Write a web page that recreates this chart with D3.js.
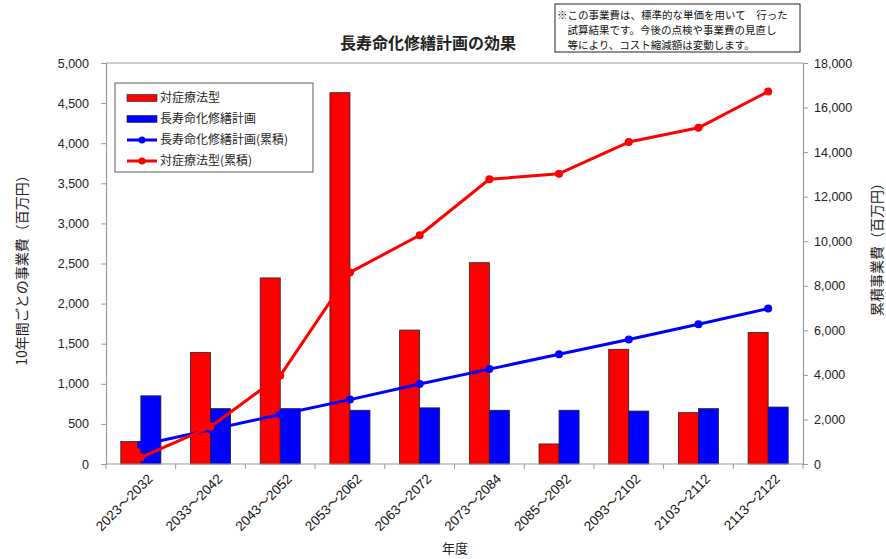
<!DOCTYPE html>
<html>
<head>
<meta charset="utf-8">
<script src="https://cdn.jsdelivr.net/npm/d3@7"></script>
<style>
  body { margin: 0; background: #fff; }
  svg text { font-family: "Liberation Sans", Arial, "Noto Sans CJK JP", sans-serif; }
  .jp { font-family: "Noto Sans CJK JP", "Liberation Sans", sans-serif; }
</style>
</head>
<body>
<div id="chart"></div>
<script>
// data
const periods = ["2023～2032", "2033～2042", "2043～2052", "2053～2062", "2063～2072",
  "2073～2084", "2085～2092", "2093～2102", "2103～2112", "2113～2122"];
const taishoCost = [280, 1390, 2320, 4630, 1670, 2510, 250, 1430, 640, 1640];
const chojuCost = [850, 690, 690, 670, 700, 670, 670, 660, 690, 710];
const chojuCum = [850, 1540, 2220, 2890, 3590, 4260, 4930, 5590, 6270, 6980];
const taishoCum = [300, 1670, 3970, 8600, 10270, 12780, 13030, 14450, 15090, 16720];
const leftTicks = [0, 500, 1000, 1500, 2000, 2500, 3000, 3500, 4000, 4500, 5000];
const rightTicks = [0, 2000, 4000, 6000, 8000, 10000, 12000, 14000, 16000, 18000];
const legendNames = ["対症療法型", "長寿命化修繕計画", "長寿命化修繕計画(累積)", "対症療法型(累積)"];
const noteLines = ["※この事業費は、標準的な単価を用いて　行った",
  "　試算結果です。今後の点検や事業費の見直し",
  "　等により、コスト縮減額は変動します。"];

const width = 886, height = 559;
const plot = { left: 106, right: 803, top: 63, bottom: 464 };
const RED = "#ff0000", BLUE = "#0000ff";

const svg = d3.select("#chart").append("svg")
  .attr("width", width)
  .attr("height", height);

const x = d3.scaleBand().domain(periods).range([plot.left, plot.right]).padding(0);
const sub = d3.scaleBand().domain(["taisho", "choju"])
  .range([0, x.bandwidth()]).paddingInner(0).paddingOuter(0.74);
const yL = d3.scaleLinear().domain([0, 5000]).range([plot.bottom, plot.top]);
const yR = d3.scaleLinear().domain([0, 18000]).range([plot.bottom, plot.top]);

// frame top line
svg.append("line")
  .attr("x1", plot.left).attr("x2", plot.right)
  .attr("y1", plot.top).attr("y2", plot.top)
  .attr("stroke", "#999").attr("stroke-width", 1.2);

// left axis
const axL = svg.append("g")
  .attr("transform", `translate(${plot.left},0)`)
  .call(d3.axisLeft(yL).tickValues(leftTicks).tickFormat(d3.format(",")).tickSize(5).tickPadding(12));
// right axis
const axR = svg.append("g")
  .attr("transform", `translate(${plot.right},0)`)
  .call(d3.axisRight(yR).tickValues(rightTicks).tickFormat(d3.format(",")).tickSize(5).tickPadding(6));

[axL, axR].forEach((ax) => {
  ax.select(".domain").attr("stroke", "#999").attr("stroke-width", 1.2);
  ax.selectAll(".tick line").attr("stroke", "#999");
  ax.selectAll(".tick text").attr("font-size", 12.5).attr("fill", "#222");
});

// bars
const groups = svg.append("g").selectAll("g")
  .data(periods)
  .join("g")
  .attr("transform", (d) => `translate(${x(d)},0)`);

groups.append("rect")
  .attr("x", sub("taisho"))
  .attr("width", sub.bandwidth())
  .attr("y", (d, i) => yL(taishoCost[i]))
  .attr("height", (d, i) => plot.bottom - yL(taishoCost[i]))
  .attr("fill", RED).attr("stroke", "#222").attr("stroke-width", 0.8);

groups.append("rect")
  .attr("x", sub("choju"))
  .attr("width", sub.bandwidth())
  .attr("y", (d, i) => yL(chojuCost[i]))
  .attr("height", (d, i) => plot.bottom - yL(chojuCost[i]))
  .attr("fill", BLUE).attr("stroke", "#222").attr("stroke-width", 0.8);

// x axis line + boundary ticks
svg.append("line")
  .attr("x1", plot.left).attr("x2", plot.right)
  .attr("y1", plot.bottom).attr("y2", plot.bottom)
  .attr("stroke", "#999").attr("stroke-width", 1.2);
const bounds = periods.map((p) => x(p)).concat([plot.right]);
svg.append("g").selectAll("line")
  .data(bounds)
  .join("line")
  .attr("x1", (d) => d).attr("x2", (d) => d)
  .attr("y1", plot.bottom).attr("y2", plot.bottom + 5)
  .attr("stroke", "#999");

// x tick labels
svg.append("g").selectAll("text")
  .data(periods)
  .join("text")
  .attr("transform", (d) => `translate(${x(d) + x.bandwidth() / 2 + 6},${plot.bottom + 9}) rotate(-45)`)
  .attr("text-anchor", "end")
  .attr("dy", "0.7em")
  .attr("font-size", 13.5)
  .attr("fill", "#111")
  .text((d) => d);

// cumulative lines
const cx = (d, i) => x(periods[i]) + x.bandwidth() / 2;
const drawLine = (vals, color) => {
  const line = d3.line().x((d, i) => cx(d, i)).y((d) => yR(d));
  svg.append("path")
    .datum(vals)
    .attr("d", line)
    .attr("fill", "none")
    .attr("stroke", color)
    .attr("stroke-width", 3)
    .attr("stroke-linejoin", "round");
  svg.append("g").selectAll("circle")
    .data(vals)
    .join("circle")
    .attr("cx", (d, i) => cx(d, i))
    .attr("cy", (d) => yR(d))
    .attr("r", 4)
    .attr("fill", color);
};
drawLine(chojuCum, BLUE);
drawLine(taishoCum, RED);

// legend
const lg = svg.append("g").attr("transform", "translate(115,83)");
lg.append("rect")
  .attr("width", 198).attr("height", 89)
  .attr("fill", "#fff").attr("stroke", "#333").attr("stroke-width", 0.8);
const legendRows = [
  { name: legendNames[0], color: RED, type: "bar" },
  { name: legendNames[1], color: BLUE, type: "bar" },
  { name: legendNames[2], color: BLUE, type: "line" },
  { name: legendNames[3], color: RED, type: "line" }
];
legendRows.forEach((r, i) => {
  const yy = 15 + i * 21;
  if (r.type === "bar") {
    lg.append("rect")
      .attr("x", 12).attr("y", yy - 3.5).attr("width", 30).attr("height", 7)
      .attr("fill", r.color).attr("stroke", "#222").attr("stroke-width", 0.6);
  } else {
    lg.append("line")
      .attr("x1", 12).attr("x2", 42).attr("y1", yy).attr("y2", yy)
      .attr("stroke", r.color).attr("stroke-width", 3);
    lg.append("circle").attr("cx", 27).attr("cy", yy).attr("r", 3.5).attr("fill", r.color);
  }
  lg.append("text")
    .attr("class", "jp")
    .attr("x", 45).attr("y", yy)
    .attr("dy", "0.35em")
    .attr("font-size", 12)
    .attr("fill", "#222")
    .text(r.name);
});

// title
svg.append("text")
  .attr("class", "jp")
  .attr("x", 428).attr("y", 49)
  .attr("text-anchor", "middle")
  .attr("font-size", 16)
  .attr("font-weight", "bold")
  .attr("fill", "#222")
  .text("長寿命化修繕計画の効果");

// note box
svg.append("rect")
  .attr("x", 555).attr("y", 4).attr("width", 245).attr("height", 48)
  .attr("fill", "#fff").attr("stroke", "#222").attr("stroke-width", 1);
svg.append("g").selectAll("text")
  .data(noteLines)
  .join("text")
  .attr("class", "jp")
  .attr("x", 557)
  .attr("y", (d, i) => 15 + i * 15)
  .attr("dy", "0.35em")
  .attr("font-size", 10.5)
  .attr("fill", "#111")
  .text((d) => d);

// axis titles
svg.append("text")
  .attr("class", "jp")
  .attr("transform", "translate(22,267) rotate(-90)")
  .attr("text-anchor", "middle")
  .attr("dy", "0.35em")
  .attr("font-size", 14)
  .attr("fill", "#222")
  .text("10年間ごとの事業費（百万円）");
svg.append("text")
  .attr("class", "jp")
  .attr("transform", "translate(877,246) rotate(-90)")
  .attr("text-anchor", "middle")
  .attr("dy", "0.35em")
  .attr("font-size", 14)
  .attr("fill", "#222")
  .text("累積事業費（百万円）");
svg.append("text")
  .attr("class", "jp")
  .attr("x", 455).attr("y", 553)
  .attr("text-anchor", "middle")
  .attr("font-size", 13)
  .attr("fill", "#222")
  .text("年度");
</script>
</body>
</html>
